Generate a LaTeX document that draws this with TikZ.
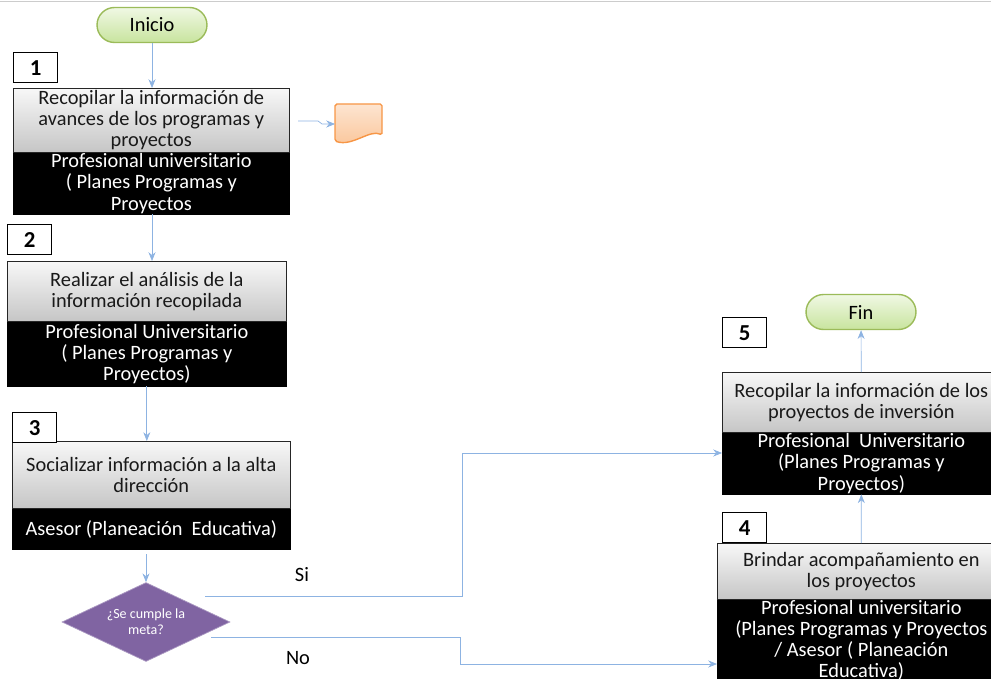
\documentclass[tikz,border=0pt]{standalone}
\usepackage{fontspec}
\setmainfont{Carlito}
\usetikzlibrary{shapes.geometric,arrows.meta}

\definecolor{linea}{HTML}{8DB3E2}
\definecolor{verdeb}{HTML}{9BBB59}
\definecolor{verdea}{HTML}{F0F8E4}
\definecolor{verdez}{HTML}{C8E49E}
\definecolor{morado}{HTML}{8064A2}
\definecolor{naranja}{HTML}{F79646}

\tikzset{
  txt/.style={font=\fontsize{11.6}{12}\selectfont},
  paso/.style={txt,draw=black!85,top color=gray!6,bottom color=gray!45,text=black!90,
    align=center,anchor=north west,inner ysep=1pt},
  rol/.style={txt,draw=black,fill=black,text=white,align=center,anchor=north west,inner ysep=0pt},
  num/.style={draw=black,thick,fill=white,anchor=north west,minimum width=0.88cm,
    minimum height=0.6cm,inner sep=0pt,font=\fontsize{13}{13}\selectfont\bfseries},
  term/.style={txt,draw=verdeb,thick,rounded corners=0.35cm,top color=verdea,bottom color=verdez,
    minimum width=2.2cm,minimum height=0.7cm},
  flecha/.style={draw=linea,-{Stealth[length=5pt,width=4pt]}}
}

\begin{document}
\begin{tikzpicture}[x=0.02cm,y=-0.02cm]

\useasboundingbox (0,0) rectangle (991,679);
\clip (0,0) rectangle (991,679);
\draw[gray!40] (0,1) -- (991,1);

% inicio y fin
\node[term] (ini) at (152,25) {Inicio};
\node[term] (fin) at (861,312) {Fin};

% pasos
\node[paso,minimum width=5.52cm,minimum height=1.28cm] (p1a) at (13,88)
  {Recopilar la información de\\avances de los programas y\\proyectos};
\node[rol,minimum width=5.52cm,minimum height=1.22cm] (p1b) at (p1a.south west)
  {Profesional universitario\\( Planes Programas y\\Proyectos};

\node[paso,minimum width=5.58cm,minimum height=1.2cm] (p2a) at (7,261)
  {Realizar el análisis de la\\información recopilada};
\node[rol,minimum width=5.58cm,minimum height=1.28cm] (p2b) at (p2a.south west)
  {Profesional Universitario\\( Planes Programas y\\Proyectos)};

\node[paso,minimum width=5.56cm,minimum height=1.34cm] (p3a) at (12,441)
  {Socializar información a la alta\\dirección};
\node[rol,minimum width=5.56cm,minimum height=0.8cm] (p3b) at (p3a.south west)
  {Asesor (Planeación~ Educativa)};

\node[paso,minimum width=5.56cm,minimum height=1.2cm] (p5a) at (722,372)
  {Recopilar la información de los\\proyectos de inversión};
\node[rol,minimum width=5.56cm,minimum height=1.22cm] (p5b) at (p5a.south west)
  {Profesional~ Universitario\\(Planes Programas y\\Proyectos)};

\node[paso,minimum width=5.76cm,minimum height=1.12cm] (p4a) at (717,543)
  {Brindar acompañamiento en\\los proyectos};
\node[rol,minimum width=5.76cm,minimum height=1.6cm] (p4b) at (p4a.south west)
  {Profesional universitario\\(Planes Programas y Proyectos\\/ Asesor ( Planeación\\Educativa)};

\foreach \n/\x/\y in {1/13/52, 2/7/224, 3/12/412, 5/722/317, 4/722/512}
  \node[num] (n\n) at (\x,\y) {\n};

% decision
\node[diamond,draw=morado!65!white,fill=morado,text=white,aspect=2.1,inner sep=0pt,
  minimum width=3.36cm,minimum height=1.58cm,align=center,
  font=\fontsize{8}{9}\selectfont] (dec) at (146,622) {¿Se cumple la\\meta?};

% documento
\draw[naranja,thick,top color=naranja!25!white,bottom color=naranja!55!white,rounded corners=1pt]
  (335,104) -- (382,104) -- (382,135) .. controls (370,129) and (352,147) .. (335,141) -- cycle;
\coordinate (doc) at (335,124);
\coordinate (d0) at (298,121);

% conectores
\draw[flecha] (ini) -- (ini |- p1a.north);
\draw[flecha] (d0) -- ++(20,0) -- ++(4,3) -- (doc);
\draw[flecha] (p1b.south -| ini) -- (p2a.north -| ini);
\draw[flecha] (p2b) -- (p2b |- p3a.north);
\draw[flecha] (p3b.south -| dec) ++(0,5) -- (dec);

\coordinate (si0) at (205,596);
\coordinate (no0) at (211,637);
\draw[flecha] (si0) -- (462,596) -- (462,453) -- (p5b.west |- 0,453);
\draw[flecha] (no0) -- (460,637) -- (460,664) -- (p4b.west |- 0,664);
\draw[flecha] (p4a) -- (p5b);
\draw[flecha] (p5a) -- (fin);

\node[txt] (si) at (302,575) {Si};
\node[txt] (no) at (298,658) {No};

\end{tikzpicture}
\end{document}
